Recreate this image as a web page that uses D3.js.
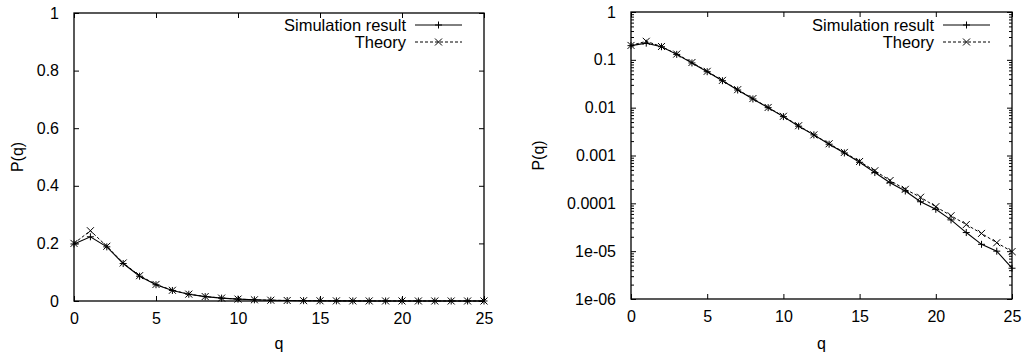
<!DOCTYPE html>
<html>
<head>
<meta charset="utf-8">
<script src="https://cdn.jsdelivr.net/npm/d3@7"></script>
<style>
  body { margin: 0; background: #fff; }
  text { font-family: "Liberation Sans", Arial, sans-serif; fill: #000; }
</style>
</head>
<body>
<div class="chart"></div>
<script>
// Données
let q = d3.range(0, 26);
let simulation = [0.198, 0.223, 0.188, 0.130, 0.086, 0.0565, 0.0366, 0.0234, 0.0152, 0.0100,
  0.0065, 0.0041, 0.0027, 0.00172, 0.00113, 0.00072, 0.00044, 0.00027, 0.000181, 0.000108,
  7.5e-5, 4.5e-5, 2.45e-5, 1.39e-5, 1.0e-5, 4.4e-6];
let theory = [0.200, 0.244, 0.190, 0.132, 0.088, 0.0575, 0.0372, 0.0238, 0.0155, 0.0101,
  0.0066, 0.0042, 0.0027, 0.00176, 0.00116, 0.00075, 0.00048, 0.00030, 0.000196, 0.000134,
  8.5e-5, 5.5e-5, 3.6e-5, 2.35e-5, 1.5e-5, 9.8e-6];
let xTicks = [0, 5, 10, 15, 20, 25];
let linTicks = [0, 0.2, 0.4, 0.6, 0.8, 1];
let linLabels = ["0", "0.2", "0.4", "0.6", "0.8", "1"];
let logTicks = [1e-6, 1e-5, 1e-4, 1e-3, 1e-2, 1e-1, 1];
let logLabels = ["1e-06", "1e-05", "0.0001", "0.001", "0.01", "0.1", "1"];
let legendNames = ["Simulation result", "Theory"];

let svg = d3.select(".chart").append("svg")
  .attr("width", 1028)
  .attr("height", 355);

function drawPanel(opts) {
  let x = d3.scaleLinear().domain([0, 25]).range([opts.left, opts.right]);
  let y = opts.y;
  let g = svg.append("g");

  // Cadre
  g.append("rect")
    .attr("x", opts.left).attr("y", opts.top)
    .attr("width", opts.right - opts.left).attr("height", opts.bottom - opts.top)
    .attr("fill", "none").attr("stroke", "#000").attr("stroke-width", 1.3);

  // Axe x (graduations vers l'intérieur, en haut et en bas)
  g.append("g").attr("transform", "translate(0," + opts.bottom + ")")
    .call(d3.axisBottom(x).tickValues(xTicks).tickSize(-5).tickPadding(12).tickFormat(d3.format("d")))
    .call(a => a.select(".domain").remove());
  g.append("g").attr("transform", "translate(0," + opts.top + ")")
    .call(d3.axisTop(x).tickValues(xTicks).tickSize(-5).tickFormat(""))
    .call(a => a.select(".domain").remove());

  // Axe y
  g.append("g").attr("transform", "translate(" + opts.left + ",0)")
    .call(d3.axisLeft(y).tickValues(opts.yTicks).tickSize(-5).tickPadding(15)
      .tickFormat((d, i) => opts.yLabels[i]))
    .call(a => a.select(".domain").remove());
  g.append("g").attr("transform", "translate(" + opts.right + ",0)")
    .call(d3.axisRight(y).tickValues(opts.yTicks).tickSize(-5).tickFormat(""))
    .call(a => a.select(".domain").remove());

  if (opts.minor) {
    g.append("g").attr("transform", "translate(" + opts.left + ",0)")
      .call(d3.axisLeft(y).tickValues(opts.minor).tickSize(-3).tickFormat(""))
      .call(a => a.select(".domain").remove());
    g.append("g").attr("transform", "translate(" + opts.right + ",0)")
      .call(d3.axisRight(y).tickValues(opts.minor).tickSize(-3).tickFormat(""))
      .call(a => a.select(".domain").remove());
  }

  g.selectAll(".tick text").attr("font-size", 16).style("font-family", "'Liberation Sans', Arial, sans-serif");
  g.selectAll(".tick line").attr("stroke-width", 1);

  // Titres des axes
  g.append("text")
    .attr("x", (opts.left + opts.right) / 2).attr("y", 349)
    .attr("text-anchor", "middle").attr("font-size", 16)
    .text("q");
  g.append("text")
    .attr("transform", "translate(" + opts.ylabelX + "," + ((opts.top + opts.bottom) / 2) + ") rotate(-90)")
    .attr("text-anchor", "middle").attr("dy", "0.35em").attr("font-size", 16)
    .text("P(q)");

  // Courbes
  let line = d3.line().x((d, i) => x(q[i])).y(d => y(d));
  g.append("path").attr("d", line(simulation))
    .attr("fill", "none").attr("stroke", "#000").attr("stroke-width", 1.1);
  g.append("path").attr("d", line(theory))
    .attr("fill", "none").attr("stroke", "#000").attr("stroke-width", 1)
    .attr("stroke-dasharray", "3,2");

  let s = 3.5;
  g.selectAll(".plus").data(simulation).join("path")
    .attr("d", (d, i) => "M" + (x(q[i]) - s) + "," + y(d) + "h" + (2 * s) + "M" + x(q[i]) + "," + (y(d) - s) + "v" + (2 * s))
    .attr("stroke", "#000").attr("stroke-width", 1);
  g.selectAll(".cross").data(theory).join("path")
    .attr("d", (d, i) => "M" + (x(q[i]) - s) + "," + (y(d) - s) + "l" + (2 * s) + "," + (2 * s) +
      "M" + (x(q[i]) - s) + "," + (y(d) + s) + "l" + (2 * s) + "," + (-2 * s))
    .attr("stroke", "#000").attr("stroke-width", 1);

  // Légende
  legendNames.forEach(function (name, i) {
    let ly = 25 + i * 17;
    g.append("text")
      .attr("x", opts.legendX).attr("y", ly).attr("dy", "0.35em")
      .attr("text-anchor", "end").attr("font-size", 16.5)
      .text(name);
    let x0 = opts.legendX + 9, x1 = opts.legendX + 56, xm = (x0 + x1) / 2;
    g.append("line").attr("x1", x0).attr("x2", x1).attr("y1", ly).attr("y2", ly)
      .attr("stroke", "#000").attr("stroke-width", 1)
      .attr("stroke-dasharray", i === 0 ? null : "3,2");
    g.append("path")
      .attr("d", i === 0
        ? "M" + (xm - s) + "," + ly + "h" + (2 * s) + "M" + xm + "," + (ly - s) + "v" + (2 * s)
        : "M" + (xm - s) + "," + (ly - s) + "l" + (2 * s) + "," + (2 * s) + "M" + (xm - s) + "," + (ly + s) + "l" + (2 * s) + "," + (-2 * s))
      .attr("stroke", "#000").attr("stroke-width", 1);
  });
}

// Panneau de gauche : échelle linéaire
drawPanel({
  left: 74, right: 484, top: 13, bottom: 301,
  y: d3.scaleLinear().domain([0, 1]).range([301, 13]),
  yTicks: linTicks, yLabels: linLabels,
  ylabelX: 17, legendX: 406
});

// Panneau de droite : échelle logarithmique
let minor = [];
for (let e = -6; e < 0; e++) {
  for (let m = 2; m <= 9; m++) minor.push(m * Math.pow(10, e));
}
drawPanel({
  left: 631, right: 1012, top: 12, bottom: 299,
  y: d3.scaleLog().domain([1e-6, 1]).range([299, 12]),
  yTicks: logTicks, yLabels: logLabels, minor: minor,
  ylabelX: 538, legendX: 934
});
</script>
</body>
</html>
